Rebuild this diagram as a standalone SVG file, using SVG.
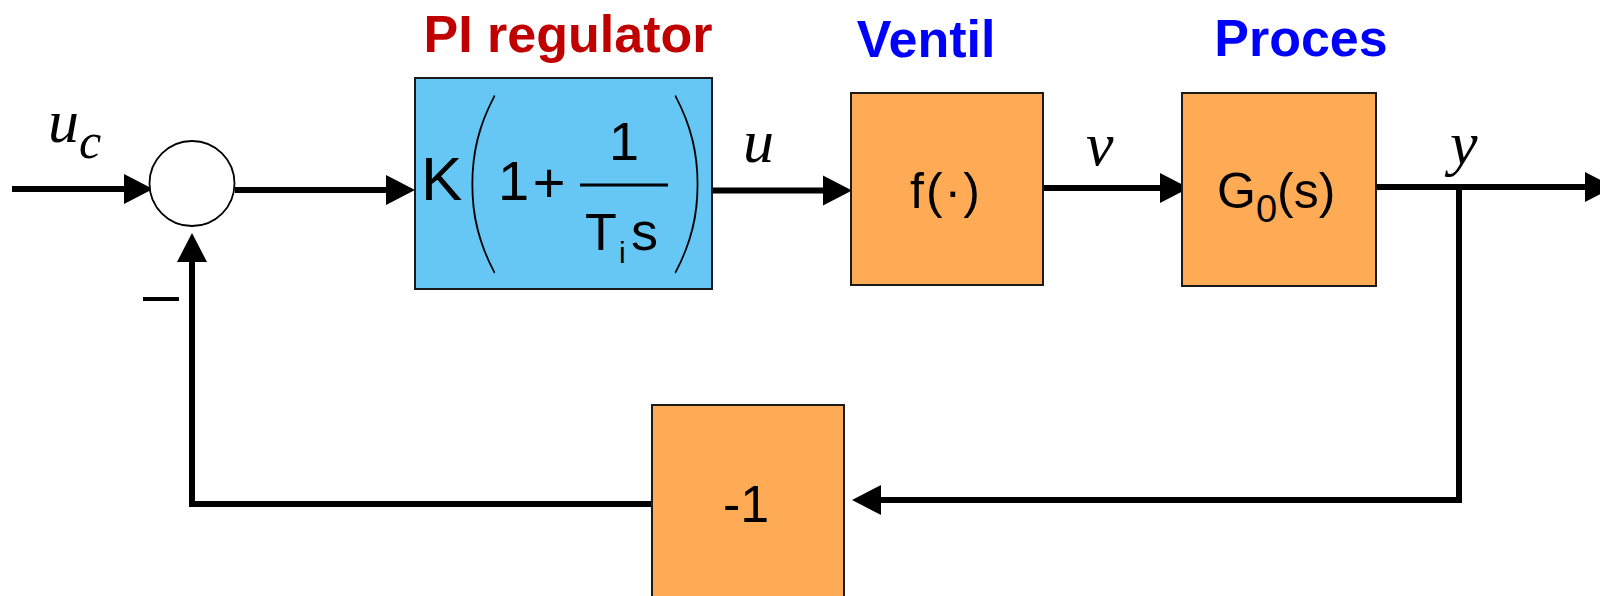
<svg xmlns="http://www.w3.org/2000/svg" width="1600" height="596" viewBox="0 0 1600 596">
<style>
.box{stroke:#1a1a1a;stroke-width:2}
.org{fill:#FFAA55}
.blu{fill:#66C6F4}
.wire{fill:none;stroke:#000;stroke-width:6;stroke-linejoin:miter;stroke-linecap:butt}
.sans{font-family:"Liberation Sans",Arial,sans-serif;fill:#000}
.title{font-family:"Liberation Sans",Arial,sans-serif;font-weight:bold;font-size:52px;text-anchor:middle}
.var{font-family:"Liberation Serif","Times New Roman",serif;font-style:italic;fill:#000}
.par{font-family:Lato,"Liberation Serif",serif;font-weight:200;font-size:96px;fill:#000}
</style>
<defs>
<marker id="arr" markerUnits="userSpaceOnUse" markerWidth="30" markerHeight="30" refX="0" refY="15" orient="auto" overflow="visible">
<path d="M0,0 L29,15 L0,30 z" fill="#000"/>
</marker>
</defs>
<rect width="1600" height="596" fill="#fff"/>

<g id="titles">
<text class="title" x="568" y="52" fill="#C00000">PI regulator</text>
<text class="title" x="926" y="57" fill="#0000FF">Ventil</text>
<text class="title" x="1301" y="56" fill="#0000FF">Proces</text>
</g>

<g id="connectors">
<path class="wire" d="M12 189 H124" marker-end="url(#arr)"/>
<path class="wire" d="M235 190 H386" marker-end="url(#arr)"/>
<path class="wire" d="M712 190.5 H823" marker-end="url(#arr)"/>
<path class="wire" d="M1043 188 H1160" marker-end="url(#arr)"/>
<path class="wire" d="M1376 187 H1585" marker-end="url(#arr)"/>
<path class="wire" d="M1459 187 V500 H881" marker-end="url(#arr)"/>
<path class="wire" d="M652 504 H192 V262" marker-end="url(#arr)"/>
</g>

<g id="sum">
<circle cx="192" cy="183.5" r="42.5" fill="#fff" stroke="#000" stroke-width="1.8"/>
<rect x="143" y="297" width="36" height="4" fill="#000"/>
</g>

<g id="labels">
<text class="var" x="48" y="142" font-size="62">u</text>
<text class="var" x="79" y="158" font-size="50">c</text>
<text class="var" x="743" y="162" font-size="62">u</text>
<text class="var" x="1086" y="165" font-size="62">v</text>
<text class="var" x="1450" y="164" font-size="62">y</text>
</g>

<g id="pi">
<rect class="box blu" x="415" y="78" width="297" height="211"/>
<text class="sans" x="421" y="200" font-size="62">K</text>
<text class="par" transform="translate(461 249) scale(1.7 2.14)" letter-spacing="-9">(</text>
<text class="sans" x="498" y="200" font-size="56">1</text>
<text class="sans" x="549" y="202" font-size="56" text-anchor="middle">+</text>
<rect x="580" y="183.5" width="88" height="3" fill="#000"/>
<text class="sans" x="624" y="160" font-size="54" text-anchor="middle">1</text>
<text class="sans" x="585" y="250" font-size="52">T</text>
<text class="sans" x="619" y="263" font-size="30">i</text>
<text class="sans" x="631" y="250" font-size="54">s</text>
<text class="par" transform="translate(668 249) scale(1.7 2.14)">)</text>
</g>

<g id="ventil">
<rect class="box org" x="851" y="93" width="192" height="192"/>
<text class="sans" x="946" y="208" font-size="50" text-anchor="middle" letter-spacing="2">f(·)</text>
</g>

<g id="proces">
<rect class="box org" x="1182" y="93" width="194" height="193"/>
<text class="sans" x="1217" y="208" font-size="50">G<tspan font-size="38" dy="14">0</tspan><tspan dy="-14">(s)</tspan></text>
</g>

<g id="gain">
<rect class="box org" x="652" y="405" width="192" height="200"/>
<text class="sans" x="746" y="522" font-size="52" text-anchor="middle">-1</text>
</g>
</svg>
